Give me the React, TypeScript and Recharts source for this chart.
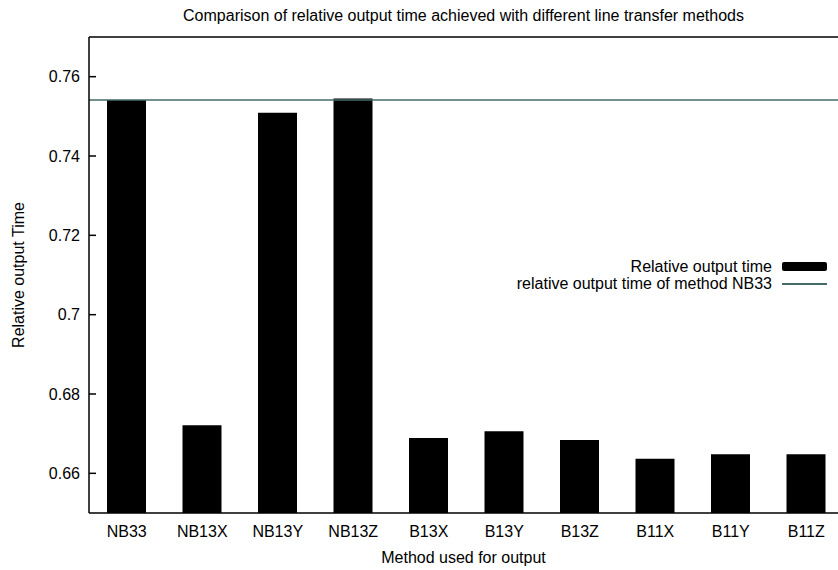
import { BarChart, Bar, XAxis, YAxis, ReferenceLine, Legend } from 'recharts';

const methods = ['NB33', 'NB13X', 'NB13Y', 'NB13Z', 'B13X', 'B13Y', 'B13Z', 'B11X', 'B11Y', 'B11Z'];
const relativeTimes = [0.7541, 0.6721, 0.7509, 0.7545, 0.6689, 0.6706, 0.6684, 0.6637, 0.6648, 0.6648];
const nb33Time = 0.7541;
const yTicks = [0.66, 0.68, 0.7, 0.72, 0.74, 0.76];
const yDomain = [0.65, 0.77];

const TITLE = 'Comparison of relative output time achieved with different line transfer methods';
const X_LABEL = 'Method used for output';
const Y_LABEL = 'Relative output Time';
const BAR_NAME = 'Relative output time';
const LINE_NAME = 'relative output time of method NB33';

const FONT = '"Liberation Sans", Arial, Helvetica, sans-serif';
const LINE_COLOR = '#456b68';

const data = methods.map((method, i) => ({ method, time: relativeTimes[i] }));

const tickStyle = { fontSize: 16, fill: '#000', fontFamily: FONT };

const renderTitle = ({ viewBox }: any) => (
  <text x={viewBox.x + viewBox.width / 2 - 3} y={21} textAnchor="middle" fontSize={16} fontFamily={FONT} fill="#000">
    {TITLE}
  </text>
);

const renderXLabel = ({ viewBox }: any) => (
  <text x={viewBox.x + viewBox.width / 2 - 3} y={viewBox.y + 50} textAnchor="middle" fontSize={16} fontFamily={FONT} fill="#000">
    {X_LABEL}
  </text>
);

const renderYLabel = ({ viewBox }: any) => {
  const cx = 24;
  const cy = viewBox.y + viewBox.height / 2;
  return (
    <text x={cx} y={cy} transform={`rotate(-90 ${cx} ${cy})`} textAnchor="middle" fontSize={16} fontFamily={FONT} fill="#000">
      {Y_LABEL}
    </text>
  );
};

const renderLegend = () => (
  <div style={{ fontFamily: FONT, fontSize: 16, color: '#000', lineHeight: '17px' }}>
    <div style={{ display: 'flex', justifyContent: 'flex-end', alignItems: 'center', height: 17 }}>
      <span>{BAR_NAME}</span>
      <span style={{ display: 'inline-block', width: 45, height: 9, background: '#000', borderRadius: 2, marginLeft: 10 }} />
    </div>
    <div style={{ display: 'flex', justifyContent: 'flex-end', alignItems: 'center', height: 17 }}>
      <span>{LINE_NAME}</span>
      <span style={{ display: 'inline-block', width: 45, height: 2, background: LINE_COLOR, marginLeft: 10 }} />
    </div>
  </div>
);

const App = () => {
  return (
    <div style={{ position: 'fixed', left: 0, top: 0, width: 838, height: 570, overflow: 'hidden', background: '#fff' }}>
      <BarChart width={860} height={570} data={data} margin={{ top: 0, right: 15, bottom: 0, left: 0 }}>
        <XAxis
          xAxisId="bottom"
          dataKey="method"
          height={57}
          tickLine={false}
          tickSize={0}
          tickMargin={13}
          tick={tickStyle}
          axisLine={{ stroke: '#000', strokeWidth: 1.5 }}
          label={renderXLabel}
        />
        <XAxis
          xAxisId="top"
          dataKey="method"
          orientation="top"
          height={37}
          tickSize={-7}
          tick={false}
          tickLine={{ stroke: '#000', strokeWidth: 1.5 }}
          axisLine={{ stroke: '#000', strokeWidth: 1.5 }}
          label={renderTitle}
        />
        <YAxis
          yAxisId="left"
          width={89}
          domain={yDomain}
          ticks={yTicks}
          allowDataOverflow
          tickSize={-7}
          tickMargin={16}
          tick={tickStyle}
          tickFormatter={(v: number) => String(v)}
          tickLine={{ stroke: '#000', strokeWidth: 1.5 }}
          axisLine={{ stroke: '#000', strokeWidth: 1.5 }}
          label={renderYLabel}
        />
        <YAxis
          yAxisId="right"
          orientation="right"
          width={1}
          domain={yDomain}
          ticks={yTicks}
          allowDataOverflow
          tickSize={-7}
          tick={false}
          tickLine={{ stroke: '#000', strokeWidth: 1.5 }}
          axisLine={{ stroke: '#000', strokeWidth: 1.5 }}
        />
        <Legend
          layout="horizontal"
          verticalAlign="middle"
          align="center"
          wrapperStyle={{ top: 258, left: 480, width: 347 }}
          content={renderLegend}
        />
        <Bar
          xAxisId="bottom"
          yAxisId="left"
          dataKey="time"
          name={BAR_NAME}
          fill="#000"
          barSize={39}
          isAnimationActive={false}
        />
        <ReferenceLine xAxisId="bottom" yAxisId="left" y={nb33Time} stroke={LINE_COLOR} strokeWidth={1.5} />
      </BarChart>
    </div>
  );
};

export default App;
